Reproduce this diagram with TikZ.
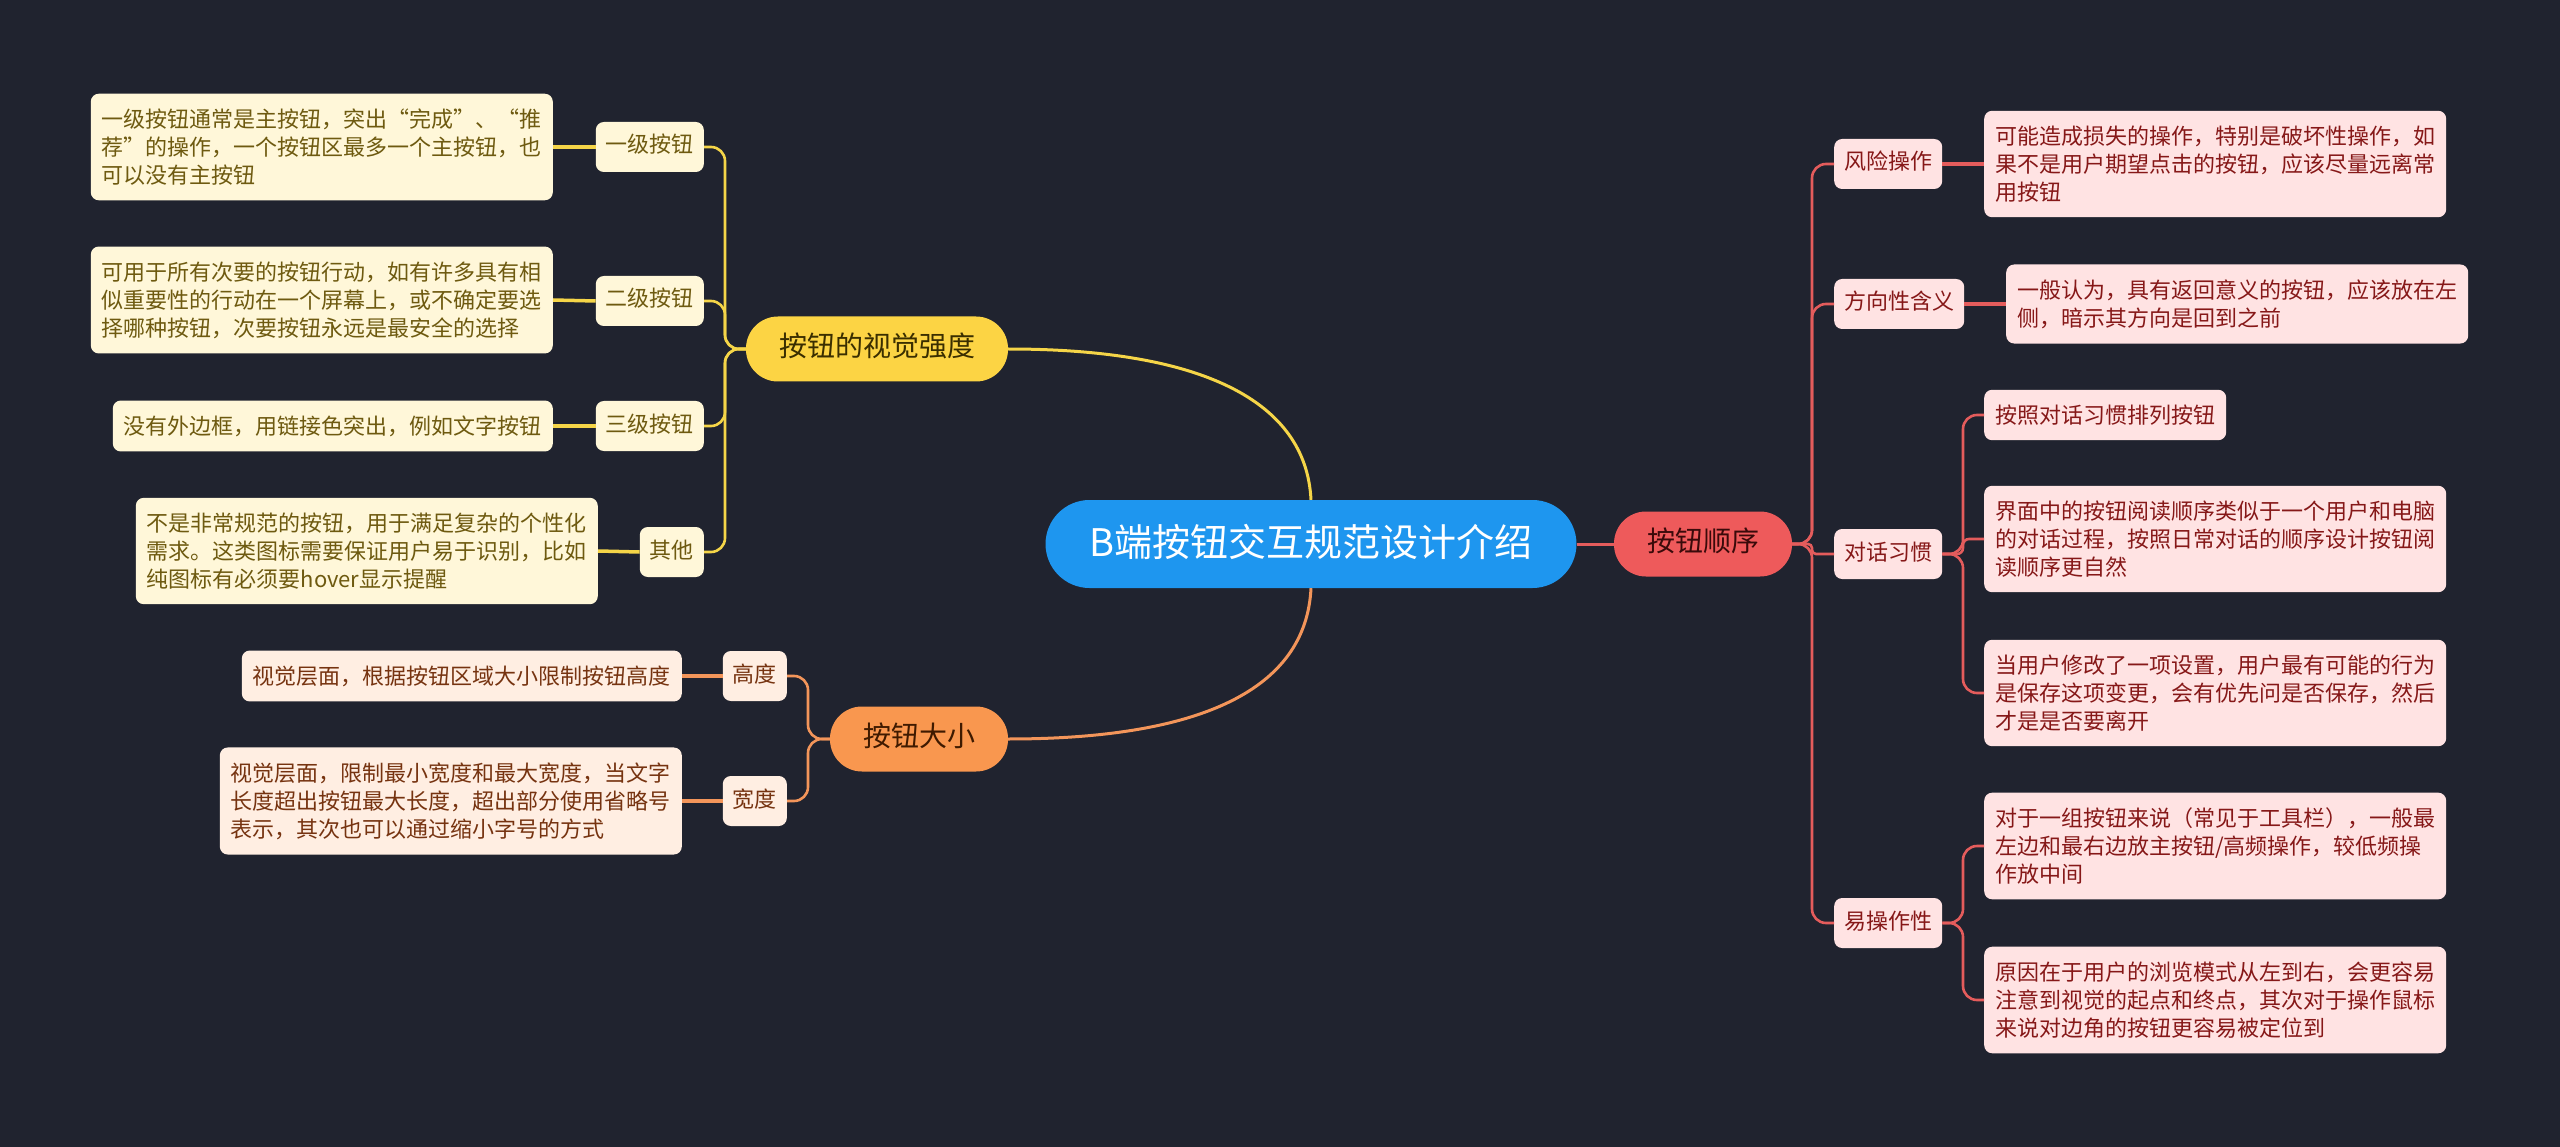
\documentclass[tikz,border=0pt]{standalone}
\usepackage{fontspec}
\setmainfont{Noto Sans CJK SC}
\definecolor{bgc}{HTML}{20232F}
\definecolor{cblue}{HTML}{1E96EF}
\definecolor{ymain}{HTML}{FCD444}
\definecolor{ymaintext}{HTML}{3A2E00}
\definecolor{yfill}{HTML}{FFF7D9}
\definecolor{ytext}{HTML}{6E5A10}
\definecolor{ylink}{HTML}{F5D548}
\definecolor{omain}{HTML}{F9974F}
\definecolor{omaintext}{HTML}{3F1A00}
\definecolor{ofill}{HTML}{FFEEE2}
\definecolor{otext}{HTML}{763310}
\definecolor{olink}{HTML}{F3955A}
\definecolor{rmain}{HTML}{EE5A5B}
\definecolor{rmaintext}{HTML}{3A0A0A}
\definecolor{rfill}{HTML}{FFE3E3}
\definecolor{rtext}{HTML}{861818}
\definecolor{rlink}{HTML}{E45C5C}
\newcommand\fsz[2]{\fontsize{#1}{#2}\selectfont}
\begin{document}
\begin{tikzpicture}[x=1pt,y=-1pt,
  leafbox/.style={rounded corners=8pt, align=left, inner xsep=11pt, inner ysep=15pt, font=\fsz{22}{28}},
  subbox/.style={rounded corners=8pt, inner xsep=10pt, inner ysep=14pt, text height=17pt, text depth=5pt, font=\fsz{22}{28}},
  mainbox/.style={rounded corners=32pt, inner xsep=33pt, inner ysep=19pt, text height=21pt, text depth=6pt, font=\fsz{28}{34}},
  ylf/.style={leafbox, fill=yfill, text=ytext},
  ysb/.style={subbox, fill=yfill, text=ytext},
  olf/.style={leafbox, fill=ofill, text=otext},
  osb/.style={subbox, fill=ofill, text=otext},
  rlf/.style={leafbox, fill=rfill, text=rtext},
  rsb/.style={subbox, fill=rfill, text=rtext},
  ylk/.style={draw=ylink, line width=2.6pt, rounded corners=14pt},
  olk/.style={draw=olink, line width=2.6pt, rounded corners=14pt},
  rlk/.style={draw=rlink, line width=2.6pt, rounded corners=14pt},
  ylkt/.style={draw=ylink, line width=3.5pt},
  olkt/.style={draw=olink, line width=3.5pt},
  rlkt/.style={draw=rlink, line width=3.5pt},
]
\fill[bgc] (0,0) rectangle (2560,1147);
\useasboundingbox (0,0) rectangle (2560,1147);

% center
\node[rounded corners=44pt, fill=cblue, text=white, inner xsep=44pt, inner ysep=23pt, text height=33pt, text depth=9pt, font=\fsz{38}{46}] (root) at (1311,544) {B端按钮交互规范设计介绍};

% main topics
\node[mainbox, fill=ymain, text=ymaintext] (vis) at (877,349) {按钮的视觉强度};
\node[mainbox, fill=omain, text=omaintext] (size) at (919,739) {按钮大小};
\node[mainbox, fill=rmain, text=rmaintext] (order) at (1703,544) {按钮顺序};

% yellow subs
\node[ysb, anchor=east] (y1) at (704,147) {一级按钮};
\node[ysb, anchor=east] (y2) at (704,301) {二级按钮};
\node[ysb, anchor=east] (y3) at (704,426) {三级按钮};
\node[ysb, anchor=east] (y4) at (704,552) {其他};
% yellow leaves
\node[ylf, anchor=east] (yl1) at (553,147) {一级按钮通常是主按钮，突出“完成”、“推\\荐”的操作，一个按钮区最多一个主按钮，也\\可以没有主按钮};
\node[ylf, anchor=east] (yl2) at (553,300) {可用于所有次要的按钮行动，如有许多具有相\\似重要性的行动在一个屏幕上，或不确定要选\\择哪种按钮，次要按钮永远是最安全的选择};
\node[ylf, anchor=east] (yl3) at (553,426) {没有外边框，用链接色突出，例如文字按钮};
\node[ylf, anchor=east] (yl4) at (598,551) {不是非常规范的按钮，用于满足复杂的个性化\\需求。这类图标需要保证用户易于识别，比如\\纯图标有必须要hover显示提醒};

% orange subs
\node[osb, anchor=east] (o1) at (787,676) {高度};
\node[osb, anchor=east] (o2) at (787,801) {宽度};
\node[olf, anchor=east] (ol1) at (682,676) {视觉层面，根据按钮区域大小限制按钮高度};
\node[olf, anchor=east] (ol2) at (682,801) {视觉层面，限制最小宽度和最大宽度，当文字\\长度超出按钮最大长度，超出部分使用省略号\\表示，其次也可以通过缩小字号的方式};

% red subs
\node[rsb, anchor=west] (r1) at (1834,164) {风险操作};
\node[rsb, anchor=west] (r2) at (1834,304) {方向性含义};
\node[rsb, anchor=west] (r3) at (1834,554) {对话习惯};
\node[rsb, anchor=west] (r4) at (1834,923) {易操作性};
% red leaves
\node[rlf, anchor=west] (rl1) at (1984,164) {可能造成损失的操作，特别是破坏性操作，如\\果不是用户期望点击的按钮，应该尽量远离常\\用按钮};
\node[rlf, anchor=west] (rl2) at (2006,304) {一般认为，具有返回意义的按钮，应该放在左\\侧，暗示其方向是回到之前};
\node[rlf, anchor=west] (rl3) at (1984,415) {按照对话习惯排列按钮};
\node[rlf, anchor=west] (rl4) at (1984,539) {界面中的按钮阅读顺序类似于一个用户和电脑\\的对话过程，按照日常对话的顺序设计按钮阅\\读顺序更自然};
\node[rlf, anchor=west] (rl5) at (1984,693) {当用户修改了一项设置，用户最有可能的行为\\是保存这项变更，会有优先问是否保存，然后\\才是是否要离开};
\node[rlf, anchor=west] (rl6) at (1984,846) {对于一组按钮来说（常见于工具栏），一般最\\左边和最右边放主按钮/高频操作，较低频操\\作放中间};
\node[rlf, anchor=west] (rl7) at (1984,1000) {原因在于用户的浏览模式从左到右，会更容易\\注意到视觉的起点和终点，其次对于操作鼠标\\来说对边角的按钮更容易被定位到};

% root connectors
\draw[draw=ylink, line width=3pt] (root.north) .. controls (1306,400) and (1200,349) .. (vis.east);
\draw[draw=olink, line width=3pt] (root.south) .. controls (1306,690) and (1200,739) .. (size.east);
\draw[draw=rlink, line width=3pt] (root.east) -- (order.west);

% yellow trunk
\coordinate (yt) at (725,349);
\foreach \s in {y1,y2,y3,y4}{\draw[ylk] (vis.west) -- (yt) |- (\s.east);}
\draw[ylkt] (y1.west) -- (yl1.east);
\draw[ylkt] (y2.west) -- (yl2.east);
\draw[ylkt] (y3.west) -- (yl3.east);
\draw[ylkt] (y4.west) -- (yl4.east);

% orange trunk
\coordinate (ot) at (808,739);
\foreach \s in {o1,o2}{\draw[olk] (size.west) -- (ot) |- (\s.east);}
\draw[olkt] (o1.west) -- (ol1.east);
\draw[olkt] (o2.west) -- (ol2.east);

% red trunk
\coordinate (rt) at (1812,544);
\foreach \s in {r1,r2,r4}{\draw[rlk] (order.east) -- (rt) |- (\s.west);}
\draw[rlk, rounded corners=4pt] (order.east) -- (rt) |- (r3.west);
\draw[rlkt] (r1.east) -- (rl1.west);
\draw[rlkt] (r2.east) -- (rl2.west);
\coordinate (rt3) at (1963,554);
\foreach \s in {rl3,rl5}{\draw[rlk] (r3.east) -- (rt3) |- (\s.west);}
\draw[rlk, rounded corners=6pt] (r3.east) -- (rt3) |- (rl4.west);
\coordinate (rt4) at (1963,923);
\foreach \s in {rl6,rl7}{\draw[rlk] (r4.east) -- (rt4) |- (\s.west);}
\end{tikzpicture}
\end{document}
